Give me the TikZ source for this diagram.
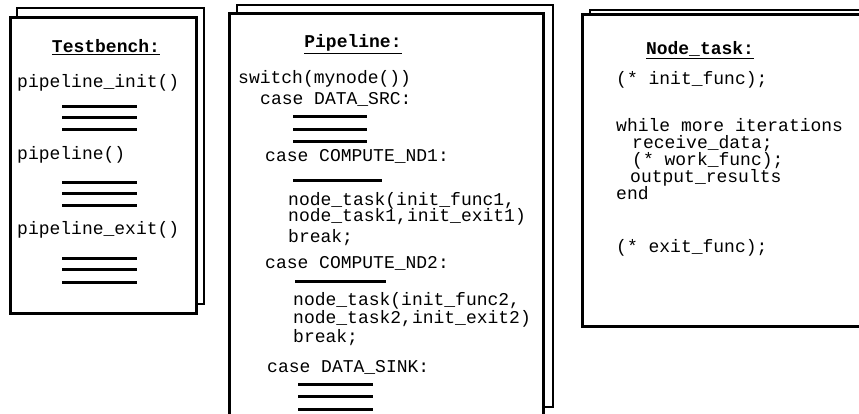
\documentclass[tikz,border=0pt]{standalone}
\usepackage{fontspec}
\setmonofont{Liberation Mono}
\newcommand\codefont{\ttfamily\fontsize{18}{18}\selectfont}
\newcommand\headfont{\ttfamily\bfseries\fontsize{18}{18}\selectfont}
\tikzset{
  backpage/.style={draw, fill=white, line width=2.6pt},
  frontpage/.style={draw, fill=white, line width=3pt},
  code/.style={anchor=base west, inner sep=0pt, font=\codefont},
  head/.style={anchor=base, inner sep=0pt, font=\headfont},
  bar/.style={line width=3pt},
}
\begin{document}
\begin{tikzpicture}[x=1pt, y=-1pt]
\useasboundingbox (0,0) rectangle (859,414);
\clip (0,0) rectangle (859,414);

% ---- Testbench sheet ----
\draw[backpage]  (17,8)  rectangle (204,304);
\draw[frontpage] (10,18) rectangle (196,313);
\node[head] (tbhead) at (106,53) {\underline{Testbench:}};
\node[code] (tbinit) at (17,88)  {pipeline\_init()};
\foreach \y in {107,118,130} \draw[bar] (62,\y) -- (137,\y);
\node[code] (tbrun)  at (17,160) {pipeline()};
\foreach \y in {183,194,206} \draw[bar] (62,\y) -- (137,\y);
\node[code] (tbexit) at (17,234) {pipeline\_exit()};
\foreach \y in {258,269,282} \draw[bar] (62,\y) -- (137,\y);

% ---- Pipeline sheet ----
\draw[backpage]  (237,5)  rectangle (553,407);
\draw[frontpage] (229,14) rectangle (543,430);
\node[head] (plhead) at (353,48) {\underline{Pipeline:}};
\node[code] (plsw)   at (238,84)  {switch(mynode())};
\node[code] (plsrc)  at (260,105) {case DATA\_SRC:};
\foreach \y in {117,130,142} \draw[bar] (293,\y) -- (367,\y);
\node[code] (plnda)  at (265,162) {case COMPUTE\_ND1:};
\draw[bar] (293,181) -- (382,181);
\node[code] (plnda1) at (288,205) {node\_task(init\_func1,};
\node[code] (plnda2) at (288,222) {node\_task1,init\_exit1)};
\node[code] (plnda3) at (288,242) {break;};
\node[code] (plndb)  at (265,268) {case COMPUTE\_ND2:};
\draw[bar] (295,281) -- (386,281);
\node[code] (plndb1) at (293,305) {node\_task(init\_func2,};
\node[code] (plndb2) at (293,323) {node\_task2,init\_exit2)};
\node[code] (plndb3) at (293,342) {break;};
\node[code] (plsink) at (267,372) {case DATA\_SINK:};
\foreach \y in {384,396,409} \draw[bar] (298,\y) -- (373,\y);

% ---- Node_task sheet ----
\draw[backpage]  (590,10) rectangle (900,300);
\draw[frontpage] (582,15) rectangle (890,326);
\node[head] (nthead) at (700,55) {\underline{Node\_task:}};
\node[code] (ntinit) at (616,85)  {(* init\_func);};
\node[code] (ntwhl)  at (616,132) {while more iterations};
\node[code] (ntrecv) at (632,149) {receive\_data;};
\node[code] (ntwork) at (632,166) {(* work\_func);};
\node[code] (ntout)  at (630,183) {output\_results};
\node[code] (ntend)  at (616,200) {end};
\node[code] (ntexit) at (616,252) {(* exit\_func);};
\end{tikzpicture}
\end{document}
